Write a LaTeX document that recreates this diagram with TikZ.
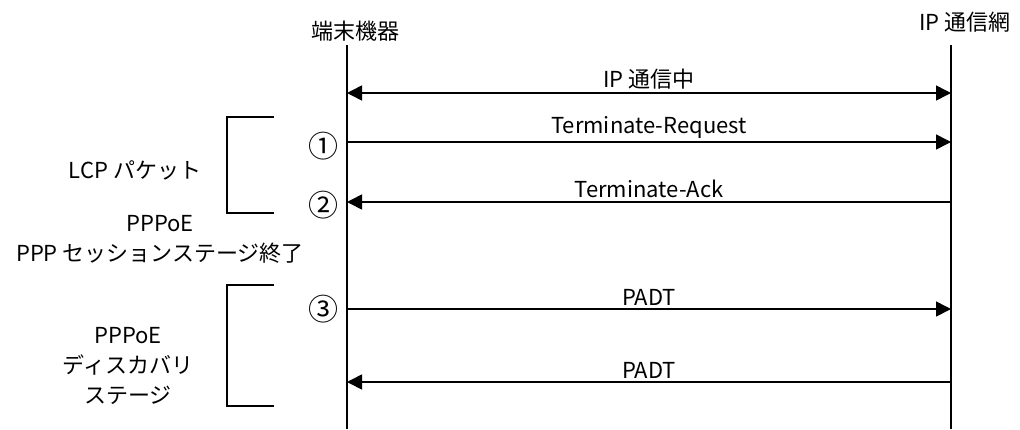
\documentclass[tikz,border=0pt]{standalone}
\usepackage{fontspec}
\setmainfont{Noto Sans CJK JP}
\usetikzlibrary{arrows.meta,positioning}
\tikzset{
        labeltext/.style={font=\fontsize{22}{30}\selectfont, align=center, inner sep=2pt},
        % Lifelines of the two parties
        lifeline/.style={line width=1.8pt},
        % Messages between the parties
        msg/.style={line width=1.6pt, -{Triangle[length=15pt,width=15pt]}},
        msg_both/.style={line width=1.6pt, {Triangle[length=15pt,width=15pt]}-{Triangle[length=15pt,width=15pt]}},
        msg_label/.style={labeltext, midway, above=1pt},
        % Step numbers
        step_num/.style={font=\fontsize{30}{30}\selectfont, inner sep=0pt},
        % Stage brackets
        stage_bracket/.style={line width=1.6pt}
}

\begin{document}
\begin{tikzpicture}[x=1pt, y=-1pt]
            \useasboundingbox (0,0) rectangle (1020,429);

            % Parties
            \node[labeltext] (term) at (355,31) {端末機器};
            \node[labeltext] (net) at (965,22) {IP 通信網};
            \coordinate (termtop) at (347,45);
            \coordinate (termbot) at (347,429);
            \coordinate (nettop) at (951,45);
            \coordinate (netbot) at (951,429);
            \draw[lifeline] (termtop) -- (termbot);
            \draw[lifeline] (nettop) -- (netbot);

            % Message end points
            \coordinate (t1) at (347,93);   \coordinate (n1) at (951,93);
            \coordinate (t2) at (347,142);  \coordinate (n2) at (951,142);
            \coordinate (t3) at (347,202);  \coordinate (n3) at (951,202);
            \coordinate (t4) at (347,309);  \coordinate (n4) at (951,309);
            \coordinate (t5) at (347,382);  \coordinate (n5) at (951,382);

            \draw[msg_both] (t1) -- (n1) node[msg_label] (ipmsg) {IP 通信中};
            \draw[msg] (t2) -- (n2) node[msg_label] (treq) {Terminate-Request};
            \draw[msg] (n3) -- (t3) node[msg_label] (tack) {Terminate-Ack};
            \draw[msg] (t4) -- (n4) node[msg_label] (padtout) {PADT};
            \draw[msg] (n5) -- (t5) node[msg_label] (padtin) {PADT};

            \node[step_num, left=8pt of t2, yshift=-4pt] (num1) {①};
            \node[step_num, left=8pt of t3, yshift=-3pt] (num2) {②};
            \node[step_num, left=8pt of t4] (num3) {③};

            % Stages
            \coordinate (lcptop) at (274,117);
            \coordinate (lcpbot) at (274,213);
            \draw[stage_bracket] (lcptop) -- ++(-47,0) |- (lcpbot);
            \node[labeltext] (lcp) at (135,170) {LCP パケット};
            \node[labeltext] (sessend) at (160,239) {PPPoE\\PPP セッションステージ終了};

            \coordinate (disctop) at (274,285);
            \coordinate (discbot) at (274,406);
            \draw[stage_bracket] (disctop) -- ++(-47,0) |- (discbot);
            \node[labeltext] (disc) at (128,366) {PPPoE\\ディスカバリ\\ステージ};
        \end{tikzpicture}
\end{document}
